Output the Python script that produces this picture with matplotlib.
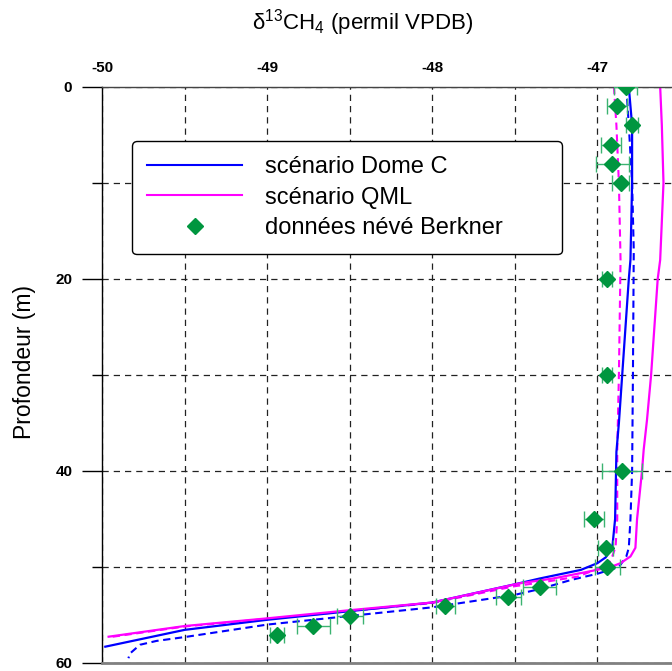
import matplotlib
matplotlib.use("Agg")
import matplotlib.pyplot as plt
from matplotlib.lines import Line2D
from matplotlib.ticker import MultipleLocator

plt.rcParams['font.family'] = ['Liberation Sans', 'DejaVu Sans']
plt.rcParams['mathtext.fontset'] = 'custom'
plt.rcParams['mathtext.rm'] = 'Liberation Sans'
plt.rcParams['mathtext.default'] = 'regular'
plt.rcParams['axes.unicode_minus'] = False

# scénario Dome C (trait plein)
domec_depth = [0, 4, 10, 18, 20, 30, 35, 38, 45, 48, 49, 49.6, 50.3, 51.2,
               51.8, 53.7, 54.6, 55.5, 56.55, 58.3]
domec_d13 = [-46.81, -46.79, -46.79, -46.80, -46.81, -46.85, -46.87, -46.885,
             -46.893, -46.91, -46.95, -47.00, -47.10, -47.35,
             -47.50, -48.0, -48.5, -49.0, -49.5, -49.98]

# scénario Dome C (tirets)
domec2_depth = [0, 4, 10, 17, 30, 40, 45, 48, 48.9, 50.0, 50.7, 51.35, 52.3,
                52.9, 54.2, 55.1, 56.0, 57.3, 57.7, 58.1, 59.0, 59.5]
domec2_d13 = [-46.825, -46.81, -46.79, -46.78, -46.785, -46.79, -46.80, -46.81,
              -46.825, -46.87, -47.0, -47.16, -47.35,
              -47.50, -48.0, -48.5, -49.0, -49.5, -49.67, -49.77, -49.83, -49.84]

# scénario QML (trait plein)
qml_depth = [0, 4, 10, 18, 20, 30, 34.7, 37.8, 40, 45, 48, 48.9, 49.6, 50.0,
             50.5, 51.2, 51.7, 53.7, 54.5, 55.35, 56.15, 57.26]
qml_d13 = [-46.62, -46.61, -46.60, -46.62, -46.635, -46.675, -46.70, -46.72,
           -46.73, -46.76, -46.77, -46.80, -46.86, -46.92,
           -47.06, -47.27, -47.47, -48.0, -48.5, -49.0, -49.5, -49.96]

# scénario QML (tirets)
qml2_depth = [0, 4, 10, 18, 30, 37.8, 45, 47.9, 48.9, 49.6, 50.2, 51.0, 51.5,
              52.0, 53.75, 54.6, 55.4, 56.2, 57.3]
qml2_d13 = [-46.90, -46.885, -46.87, -46.86, -46.87, -46.88, -46.88, -46.89,
            -46.91, -46.93, -47.0, -47.12, -47.3,
            -47.5, -48.0, -48.5, -49.0, -49.5, -49.95]

# données névé Berkner
data_depth = [0, 2, 4, 6, 8, 10, 20, 30, 40, 45, 48, 50,
              52.1, 53.1, 54.1, 55.1, 56.1, 57.1]
data_d13 = [-46.83, -46.88, -46.79, -46.92, -46.91, -46.86, -46.94, -46.94,
            -46.85, -47.02, -46.95, -46.94,
            -47.35, -47.54, -47.92, -48.50, -48.72, -48.94]
data_err = [0.07, 0.06, 0.035, 0.06, 0.10, 0.05, 0.03, 0.03, 0.12, 0.06,
            0.045, 0.075, 0.10, 0.075, 0.06, 0.08, 0.10, 0.04]

blue = '#0000ff'
pink = '#ff00ff'
green = '#00963f'
errgreen = '#3cb371'

fig = plt.figure(figsize=(6.72, 6.71), dpi=100)
ax = fig.add_axes([102 / 672, 1 - 663 / 671, 578 / 672, 576 / 671])

ax.plot(domec2_d13, domec2_depth, color=blue, lw=1.5, ls=(0, (3.5, 2.2)))
ax.plot(qml2_d13, qml2_depth, color=pink, lw=1.5, ls=(0, (3.5, 2.2)))
ax.plot(domec_d13, domec_depth, color=blue, lw=1.6)
ax.plot(qml_d13, qml_depth, color=pink, lw=1.6)
ax.errorbar(data_d13, data_depth, xerr=data_err, fmt='none', ecolor=errgreen,
            elinewidth=1, capsize=6, capthick=1, zorder=4)
ax.plot(data_d13, data_depth, 'D', color=green, ms=8, zorder=5)

ax.set_xlim(-50, -46.5)
ax.set_ylim(60, 0)
ax.xaxis.set_major_locator(MultipleLocator(1))
ax.xaxis.set_minor_locator(MultipleLocator(0.5))
ax.yaxis.set_major_locator(MultipleLocator(20))
ax.yaxis.set_minor_locator(MultipleLocator(10))
ax.xaxis.tick_top()
ax.tick_params(axis='x', which='both', length=0, pad=9, labelsize=11)
ax.tick_params(axis='y', which='major', direction='out', length=14.4, width=1,
               pad=7, labelsize=11)
ax.tick_params(axis='y', which='minor', direction='out', length=7.2, width=1)
for lab in ax.get_xticklabels() + ax.get_yticklabels():
    lab.set_fontweight('bold')

ax.grid(True, which='both', color='#222222', lw=0.9, ls=(0, (5, 4)))

ax.spines['left'].set_color('black')
ax.spines['left'].set_linewidth(1)
ax.spines['top'].set_color('#444444')
ax.spines['top'].set_linewidth(1)
ax.spines['bottom'].set_color('#808080')
ax.spines['bottom'].set_linewidth(2)
ax.spines['right'].set_visible(False)

handles = [
    Line2D([], [], color=blue, lw=1.5),
    Line2D([], [], color=pink, lw=1.5),
    Line2D([], [], color=green, marker='D', ls='none', ms=8),
]
labels = ['scénario Dome C', 'scénario QML', 'données névé Berkner']
leg = ax.legend(handles, labels, loc='upper left', mode='expand',
                bbox_to_anchor=(0.052, 0.71, 0.744, 0.196), borderaxespad=0,
                fontsize=17, handlelength=4, handletextpad=1.0,
                labelspacing=0.35, borderpad=0.65, fancybox=True,
                framealpha=1, edgecolor='black')
leg.get_frame().set_linewidth(1)

fig.text(363 / 672, 1 - 23 / 671, r'δ$^{13}$CH$_{4}$ (permil VPDB)',
         fontsize=16, ha='center', va='center')
fig.text(25 / 672, 1 - 362 / 671, 'Profondeur (m)', fontsize=16.5,
         rotation=90, ha='center', va='center')

fig.savefig('out.png', dpi=100)
